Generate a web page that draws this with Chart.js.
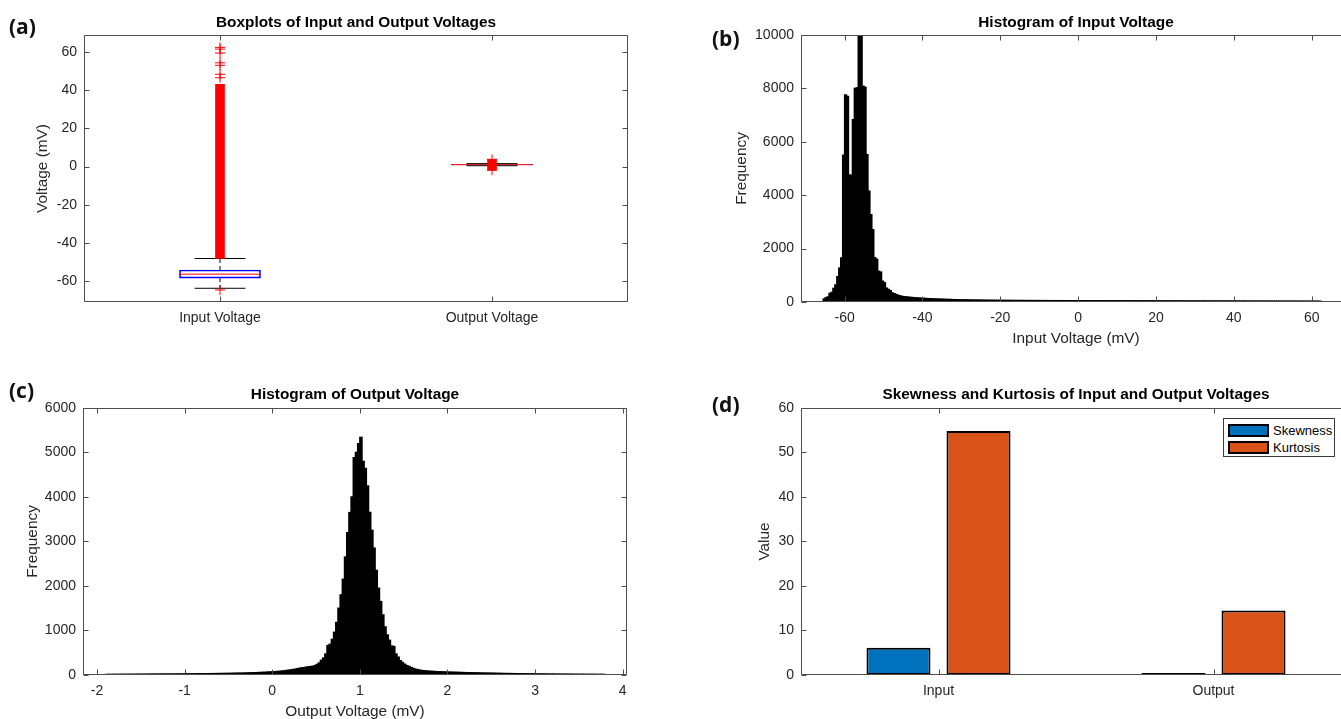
<!DOCTYPE html>
<html>
<head>
<meta charset="utf-8">
<script src="https://cdn.jsdelivr.net/npm/chart.js@4.4.0/dist/chart.umd.min.js"></script>
<style>
  html, body { margin: 0; padding: 0; background: #fff; overflow: hidden; }
  body { width: 1341px; height: 719px; position: relative; }
  canvas { position: absolute; }
  .tag { position: absolute; font-family: "Open Sans", "Noto Sans", sans-serif; font-weight: 700; font-size: 21px; line-height: 22px; color: #111; }
  #legendD { position: absolute; left: 1223px; top: 418px; width: 112px; height: 39px; box-sizing: border-box;
             border: 1px solid #3a3a3a; background: #fff; padding: 3px 0 0 4px;
             font-family: "Liberation Sans", Arial, sans-serif; font-size: 13px; color: #000; }
  .legend-row { display: flex; align-items: center; height: 16px; margin-bottom: 1px; white-space: nowrap; }
  .swatch { width: 41px; height: 13px; box-sizing: border-box; border: 2px solid #000; margin-right: 4px; }
</style>
</head>
<body>
<canvas id="boxChart" width="640" height="340" style="left:0;top:0"></canvas>
<canvas id="inputHist" width="660" height="350" style="left:700px;top:0"></canvas>
<canvas id="outputHist" width="640" height="365" style="left:0;top:360px"></canvas>
<canvas id="momentChart" width="660" height="365" style="left:700px;top:360px"></canvas>
<div class="tag" style="left:9px;top:15px">(a)</div>
<div class="tag" style="left:712px;top:27px">(b)</div>
<div class="tag" style="left:9px;top:379px">(c)</div>
<div class="tag" style="left:712px;top:393px">(d)</div>
<div id="legendD"></div>
<script>
// ---- (a) boxplot summaries (mV)
const boxCategories = ['Input Voltage', 'Output Voltage'];
const boxQ1 = [-58.5, 0.88];
const boxMedian = [-56.4, 1.0];
const boxQ3 = [-54.2, 1.12];
const whiskerLow = [-63.8, 0.45];
const whiskerHigh = [-48.2, 1.55];
// the outliers are so dense they form a solid red run, plus a few isolated ones
const outlierRunLow = [-48.2, -1.9];
const outlierRunHigh = [43.1, 3.8];
const inputOutliers = [-64.7, 46.6, 48.4, 53.1, 54.4, 59.5, 61.6, 62.5];
const outputOutliers = [-1.9, 3.8];
const boxTicksY = [-60, -40, -20, 0, 20, 40, 60];

// ---- (b) histogram of input voltage, 0.5 mV bins starting at -65.5 mV
const inputBinStart = -65.5;
const inputBinWidth = 0.5;
const inputCounts = [
  110, 160, 190, 320, 360, 510, 640, 950, 1270, 1650,
  5500, 7750, 7700, 4760, 4740, 6830, 8000, 8020, 10000, 9960,
  8080, 8040, 5520, 4150, 3270, 2710, 1660, 1600, 1150, 1120,
  780, 720, 520, 470, 420, 340, 310, 280, 250, 230,
  210, 200,
  190, 184, 172, 170, 160, 158, 148, 147, 139, 136,
  131, 129, 123, 121, 116, 115, 109, 108, 104, 103,
  99, 98, 94, 93, 89, 88, 85, 85, 81, 80,
  78, 78, 75, 74, 72, 73, 69, 70, 67, 68,
  65, 66, 63, 64, 62, 63, 61, 62, 59, 61,
  58, 60, 57, 59, 56, 58, 55, 57, 55, 56,
  54, 56, 53, 55, 53, 54, 52, 54, 51, 53,
  51, 53, 50, 52, 50, 51, 49, 51, 49, 50,
  49, 50, 48, 50, 47, 49, 48, 49, 47, 48,
  46, 48, 47, 47, 45, 47, 46, 46, 45, 46,
  45, 46, 44, 46, 44, 45, 44, 45, 43, 45,
  43, 44, 43, 44, 42, 43, 42, 44, 42, 43,
  41, 43, 41, 42, 41, 42, 40, 42, 40, 41,
  40, 41, 39, 41, 39, 40, 39, 40, 38, 40,
  38, 39, 38, 39, 37, 39, 37, 38, 37, 38,
  36, 38, 36, 37, 36, 37, 35, 37, 35, 36,
  35, 36, 35, 36, 34, 36, 34, 35, 34, 35,
  33, 35, 33, 34, 33, 34, 32, 34, 32, 33,
  32, 33, 32, 33, 31, 33, 31, 32, 31, 32,
  30, 32, 30, 31, 30, 31, 29, 31, 29, 30,
  29, 30, 28, 30, 28, 29, 28, 29, 27, 28,
  27, 28, 26, 25
];
const inputTicksX = [-60, -40, -20, 0, 20, 40, 60];
const inputTicksY = [0, 2000, 4000, 6000, 8000, 10000];

// ---- (c) histogram of output voltage, 0.025 mV bins starting at -1.9 mV
const outputBinStart = -1.9;
const outputBinWidth = 0.025;
const outputCounts = [
  12, 13, 12, 14, 13, 14, 14, 15, 14, 15,
  15, 16, 15, 16, 17, 16, 17, 18, 17, 18,
  18, 19, 18, 20, 19, 20, 21, 20, 21, 22,
  21, 22, 23, 22, 24, 23, 24, 25, 24, 26,
  25, 26, 27, 26, 28, 29, 28, 30, 31, 30,
  32, 33, 32, 34, 35, 34, 36, 37, 38, 39,
  40, 41, 42, 44, 45, 47, 48, 50, 52, 54,
  56, 58, 60, 63, 66, 69, 72, 75, 79, 83,
  88, 94, 100, 107, 114, 122, 130, 140,
  150, 160, 165, 175, 182, 188, 196, 210, 235, 270,
  330, 380, 470, 660, 690, 800, 960, 1180, 1500, 1800,
  2150, 2650, 3200, 3650, 4000, 4880, 5000, 5200, 5340, 4800,
  4640, 4250, 3650, 3250, 2850, 2350, 1950, 1650, 1350, 1080,
  900, 780, 650, 640, 470, 400, 320, 280, 240, 210,
  190, 165, 145, 130, 118, 108, 100, 95, 90, 86,
  82, 80, 77, 75, 72, 70, 68, 67, 65, 63,
  62, 60, 59, 57, 56, 54, 53, 52, 50, 49,
  48, 47, 46, 44, 43, 42, 41, 40, 39, 38,
  37, 36, 35, 34, 33, 33, 32, 31, 30, 29,
  29, 28, 27, 27, 26, 25, 25, 24, 23, 23,
  22, 22, 21, 21, 20, 20, 19, 19, 18, 18,
  18, 17, 17, 17, 16, 16, 16, 15, 15, 15,
  15, 14, 14, 14, 14, 13, 13, 13, 13, 12
];
const outputTicksX = [-2, -1, 0, 1, 2, 3, 4];
const outputTicksY = [0, 1000, 2000, 3000, 4000, 5000, 6000];

// ---- (d) skewness and kurtosis
const momentCategories = ['Input', 'Output'];
const skewness = [6.1, 0.15];
const kurtosis = [54.8, 14.5];
const momentTicksY = [0, 10, 20, 30, 40, 50, 60];

const FONT = '"Liberation Sans", Arial, Helvetica, sans-serif';
const tickFont = { family: FONT, size: 14 };
const labelFont = { family: FONT, size: 15.4 };
const titleFont = { family: FONT, size: 15.4, weight: 'bold' };
const textColor = '#262626';

Chart.defaults.animation = false;
Chart.defaults.events = [];
Chart.defaults.font.family = FONT;
Chart.defaults.color = textColor;
Chart.defaults.plugins.legend.display = false;
Chart.defaults.plugins.tooltip.enabled = false;

// MATLAB style box round the plot area, ticks pointing inward on all four sides
const matlabAxes = {
  id: 'matlabAxes',
  afterDraw(chart) {
    const { ctx, chartArea, scales } = chart;
    const left = Math.round(chartArea.left) + 0.5;
    const right = Math.round(chartArea.right) - 0.5;
    const top = Math.round(chartArea.top) + 0.5;
    const bottom = Math.round(chartArea.bottom) - 0.5;
    const len = 5;
    ctx.save();
    ctx.strokeStyle = '#4d4d4d';
    ctx.lineWidth = 1;
    ctx.beginPath();
    ctx.rect(left, top, right - left, bottom - top);
    scales.x.ticks.forEach((t, i) => {
      const px = Math.round(scales.x.getPixelForTick(i)) + 0.5;
      ctx.moveTo(px, bottom); ctx.lineTo(px, bottom - len);
      ctx.moveTo(px, top); ctx.lineTo(px, top + len);
    });
    scales.y.ticks.forEach((t, i) => {
      const py = Math.round(scales.y.getPixelForTick(i)) + 0.5;
      ctx.moveTo(left, py); ctx.lineTo(left + len, py);
      ctx.moveTo(right, py); ctx.lineTo(right - len, py);
    });
    ctx.stroke();
    ctx.restore();
  }
};

const fixedTicks = (values) => (scale) => { scale.ticks = values.map(v => ({ value: v })); };
const noGrid = { display: false, drawTicks: false };

function yAxis(min, max, ticks, width, title, titlePad) {
  return {
    type: 'linear', min, max,
    grid: noGrid, border: { display: false },
    afterBuildTicks: fixedTicks(ticks),
    afterFit: (s) => { s.width = width; },
    ticks: { font: tickFont, color: textColor, padding: 7, callback: v => String(v) },
    title: { display: !!title, text: title, font: labelFont, color: textColor, padding: { top: titlePad, bottom: 0 } }
  };
}

function chartTitle(text, padTop, padBottom) {
  return { display: true, text, font: titleFont, color: '#000', fullSize: false, padding: { top: padTop, bottom: padBottom } };
}

// ---------- (a) boxplots
const boxData = boxCategories.map((c, i) => ({ x: i + 1, y: [boxQ1[i], boxQ3[i]] }));
const runData = boxCategories.map((c, i) => ({ x: i + 1, y: [outlierRunLow[i], outlierRunHigh[i]] }));
const medianData = boxMedian.map((m, i) => ({ x: i + 1, y: m }));
const capData = boxCategories.flatMap((c, i) => [{ x: i + 1, y: whiskerLow[i] }, { x: i + 1, y: whiskerHigh[i] }]);
const whiskerData = boxCategories.flatMap((c, i) => [
  { x: i + 1, y: boxQ3[i] }, { x: i + 1, y: whiskerHigh[i] }, { x: i + 1, y: null },
  { x: i + 1, y: boxQ1[i] }, { x: i + 1, y: whiskerLow[i] }, { x: i + 1, y: null }
]);
const outlierData = inputOutliers.map(y => ({ x: 1, y })).concat(outputOutliers.map(y => ({ x: 2, y })));

new Chart(document.getElementById('boxChart'), {
  type: 'bar',
  data: {
    datasets: [
      { type: 'scatter', data: outlierData, pointStyle: 'cross', pointRadius: 5,
        pointBorderColor: '#ff0000', pointBorderWidth: 1 },
      { type: 'bar', data: runData, backgroundColor: '#ff0000', borderWidth: 0, barThickness: 9, grouped: false },
      { type: 'scatter', data: capData, pointStyle: 'line', pointRadius: 25.5,
        pointBorderColor: '#000', pointBorderWidth: 1 },
      { type: 'scatter', data: medianData, pointStyle: 'line', pointRadius: 40.5,
        pointBorderColor: '#ff0000', pointBorderWidth: 1 },
      { type: 'bar', data: boxData, backgroundColor: 'rgba(255,255,255,0)', borderColor: '#0000ff',
        borderWidth: 1, borderSkipped: false, barThickness: 81, grouped: false },
      { type: 'line', data: whiskerData, borderColor: '#000', borderWidth: 1, borderDash: [4, 3],
        pointRadius: 0, spanGaps: false }
    ]
  },
  options: {
    responsive: false,
    layout: { padding: { right: 12 }, autoPadding: false },
    plugins: { title: chartTitle('Boxplots of Input and Output Voltages', 13.5, 3) },
    scales: {
      x: {
        type: 'linear', min: 0.5, max: 2.5, offset: false,
        grid: noGrid, border: { display: false },
        afterBuildTicks: fixedTicks([1, 2]),
        afterFit: (s) => { s.height = 38; },
        ticks: { font: tickFont, color: textColor, padding: 8, callback: v => boxCategories[v - 1] }
      },
      y: yAxis(-71, 69, boxTicksY, 84, 'Voltage (mV)', 33.5)
    }
  },
  plugins: [matlabAxes]
});

// ---------- (b) input histogram
new Chart(document.getElementById('inputHist'), {
  type: 'bar',
  data: {
    datasets: [{
      data: inputCounts.map((n, i) => ({ x: inputBinStart + (i + 0.5) * inputBinWidth, y: n })),
      backgroundColor: '#000', borderWidth: 0, barPercentage: 1, categoryPercentage: 1, inflateAmount: 0.7
    }]
  },
  options: {
    responsive: false,
    layout: { padding: { right: 9 }, autoPadding: false },
    plugins: { title: chartTitle('Histogram of Input Voltage', 13.5, 3) },
    scales: {
      x: {
        type: 'linear', min: -71.2, max: 70.1, offset: false,
        grid: noGrid, border: { display: false },
        afterBuildTicks: fixedTicks(inputTicksX),
        afterFit: (s) => { s.height = 48; },
        ticks: { font: tickFont, color: textColor, padding: 8, callback: v => String(v) },
        title: { display: true, text: 'Input Voltage (mV)', font: labelFont, color: textColor, padding: { top: 0, bottom: 1.8 } }
      },
      y: yAxis(0, 10000, inputTicksY, 101, 'Frequency', 32.5)
    }
  },
  plugins: [matlabAxes]
});

// ---------- (c) output histogram
new Chart(document.getElementById('outputHist'), {
  type: 'bar',
  data: {
    datasets: [{
      data: outputCounts.map((n, i) => ({ x: outputBinStart + (i + 0.5) * outputBinWidth, y: n })),
      backgroundColor: '#000', borderWidth: 0, barPercentage: 1, categoryPercentage: 1, inflateAmount: 0.7
    }]
  },
  options: {
    responsive: false,
    layout: { padding: { right: 13 }, autoPadding: false },
    plugins: { title: chartTitle('Histogram of Output Voltage', 25.8, 3.7) },
    scales: {
      x: {
        type: 'linear', min: -2.16, max: 4.05, offset: false,
        grid: noGrid, border: { display: false },
        afterBuildTicks: fixedTicks(outputTicksX),
        afterFit: (s) => { s.height = 50; },
        ticks: { font: tickFont, color: textColor, padding: 8, callback: v => String(v) },
        title: { display: true, text: 'Output Voltage (mV)', font: labelFont, color: textColor, padding: { top: 0, bottom: 4 } }
      },
      y: yAxis(0, 6000, outputTicksY, 83, 'Frequency', 23.8)
    }
  },
  plugins: [matlabAxes]
});

// ---------- (d) skewness / kurtosis
const momentChart = new Chart(document.getElementById('momentChart'), {
  type: 'bar',
  data: {
    labels: momentCategories,
    datasets: [
      { label: 'Skewness', data: skewness, backgroundColor: '#0072BD', borderColor: '#000', borderWidth: 2,
        borderSkipped: false, minBarLength: 2, barPercentage: 0.8, categoryPercentage: 0.582 },
      { label: 'Kurtosis', data: kurtosis, backgroundColor: '#D95319', borderColor: '#000', borderWidth: 2,
        borderSkipped: false, barPercentage: 0.8, categoryPercentage: 0.582 }
    ]
  },
  options: {
    responsive: false,
    layout: { padding: { right: 9 }, autoPadding: false },
    plugins: { title: chartTitle('Skewness and Kurtosis of Input and Output Voltages', 25.8, 3.7) },
    scales: {
      x: {
        grid: noGrid, border: { display: false },
        afterFit: (s) => { s.height = 50; },
        ticks: { font: tickFont, color: textColor, padding: 8 }
      },
      y: yAxis(0, 60, momentTicksY, 101, 'Value', 55.8)
    }
  },
  plugins: [matlabAxes]
});

// legend of (d), built from the chart's datasets
const legendBox = document.getElementById('legendD');
momentChart.data.datasets.forEach(ds => {
  const row = document.createElement('div');
  row.className = 'legend-row';
  const sw = document.createElement('span');
  sw.className = 'swatch';
  sw.style.background = ds.backgroundColor;
  const txt = document.createElement('span');
  txt.textContent = ds.label;
  row.append(sw, txt);
  legendBox.append(row);
});
</script>
</body>
</html>
